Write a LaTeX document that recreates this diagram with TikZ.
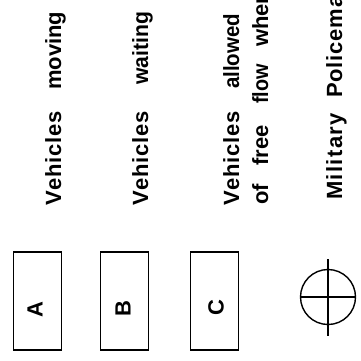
\documentclass[tikz,border=0pt]{standalone}
\usepackage{fontspec}
\setmainfont{Liberation Sans}
\tikzset{
  x=1pt,y=-1pt,
  lbl/.style={rotate=90,anchor=base west,inner sep=0pt,font=\fontsize{22}{22}\selectfont\bfseries},
  boxn/.style={draw=black,line width=1.5pt,minimum height=48pt,minimum width=98pt,rotate=90,inner sep=0pt},
  ltr/.style={rotate=90,inner sep=0pt,font=\fontsize{22}{22}\selectfont\bfseries},
  mark line/.style={draw=black,line width=1.4pt}
}
\newcommand{\veh}{V\kern0.8pt e\kern0.8pt h\kern0.8pt i\kern0.8pt c\kern0.8pt l\kern0.8pt e\kern0.8pt s}
\newcommand{\mil}{M\kern1.4pt i\kern1.4pt l\kern1.4pt i\kern1.4pt t\kern1.4pt a\kern1.4pt r\kern1.4pt y}
\newcommand{\pol}{P\kern0.8pt o\kern0.8pt l\kern0.8pt i\kern0.8pt c\kern0.8pt e\kern0.8pt m\kern0.8pt a\kern0.8pt n}
\begin{document}
\begin{tikzpicture}
\useasboundingbox (0,0) rectangle (361,360);
\clip (0,0) rectangle (361,360);
\node[lbl] (t1) at (61,206) {\veh};
\node[lbl] (t1b) at (61,90) {moving};
\node[lbl] (t2) at (148,206) {\veh};
\node[lbl] (t2b) at (148,85) {\scalebox{.96}[1]{waiting}};
\node[lbl] (t3) at (239,206) {\veh};
\node[lbl] (t3b) at (239,89) {\scalebox{.93}[1]{allowed}};
\node[lbl] (t4) at (268,205) {of};
\node[lbl] (t4b) at (268,166) {free};
\node[lbl] (t4c) at (268,104) {\scalebox{.9}[1]{flow}};
\node[lbl] (t4d) at (268,47) {when};
\node[lbl] (t5) at (342,200) {\mil};
\node[lbl] (t5b) at (342,98) {\pol};
\node[boxn] (a) at (37.5,301) {};
\node[boxn] (b) at (124.5,301) {};
\node[boxn] (c) at (214.5,301) {};
\node[ltr] (la) at (35,310) {A};
\node[ltr] (lb) at (123,309) {B};
\node[ltr] (lc) at (216,308) {C};
\node[draw=black,line width=1.4pt,circle,minimum size=55pt,inner sep=0pt] (m) at (328,297) {};
\coordinate (vt) at (328,259);
\coordinate (vb) at (328,336);
\draw[mark line] (vt) -- (vb);
\draw[mark line] (m.west) -- (m.east);
\end{tikzpicture}
\end{document}
